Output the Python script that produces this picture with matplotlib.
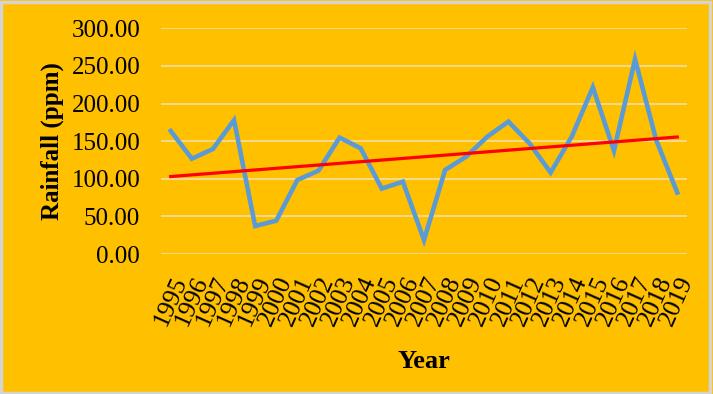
import numpy as np
import matplotlib.pyplot as plt
from matplotlib.patches import Rectangle

years = [str(y) for y in range(1995, 2020)]
rainfall = [163.6, 126.7, 139.6, 178.0, 37.2, 44.3, 98.4, 110.8, 154.7, 140.5,
            86.9, 96.2, 18.6, 111.7, 129.4, 156.0, 176.0, 147.0, 108.2, 156.0,
            221.6, 137.4, 258.9, 151.6, 81.6]
y_ticks = [0, 50, 100, 150, 200, 250, 300]

bg = '#FFC000'
plt.rcParams['font.family'] = ['Liberation Serif', 'DejaVu Serif']

fig = plt.figure(figsize=(7.13, 3.94), dpi=100, facecolor=bg)
ax = fig.add_axes([0.2258, 0.3553, 0.7377, 0.5729])
ax.set_facecolor(bg)

x = np.arange(len(years))
ax.plot(x, rainfall, color='#5B9BD5', lw=3.3, solid_joinstyle='miter', zorder=3)

# linear trend
k, b = np.polyfit(x, rainfall, 1)
ax.plot(x, k * x + b, color='red', lw=2.3, zorder=4)

ax.set_ylim(0, 300)
ax.set_xlim(-0.46, len(years) - 0.54)
ax.set_yticks(y_ticks)
ax.set_yticklabels([f'{v:.2f}' for v in y_ticks], fontsize=18)
ax.set_xticks(x)
ax.set_xticklabels(years, fontsize=18.5, rotation=66, ha='right', va='top',
                   rotation_mode='anchor')
ax.tick_params(axis='y', length=0, pad=15)
ax.tick_params(axis='x', length=0, pad=14)
ax.grid(axis='y', color='#F3DC9C', lw=1.3, zorder=1)
for s in ax.spines.values():
    s.set_visible(False)

ax.set_ylabel('Rainfall (ppm)', fontsize=18, fontweight='bold', labelpad=5)
ax.set_xlabel('Year', fontsize=19, fontweight='bold', labelpad=15)

fig.patches.append(Rectangle((0.002, 0.003), 0.994, 0.992, transform=fig.transFigure,
                             fill=False, edgecolor='#D4D4D4', lw=2.5))

fig.savefig('out.png', dpi=100, facecolor=bg)
